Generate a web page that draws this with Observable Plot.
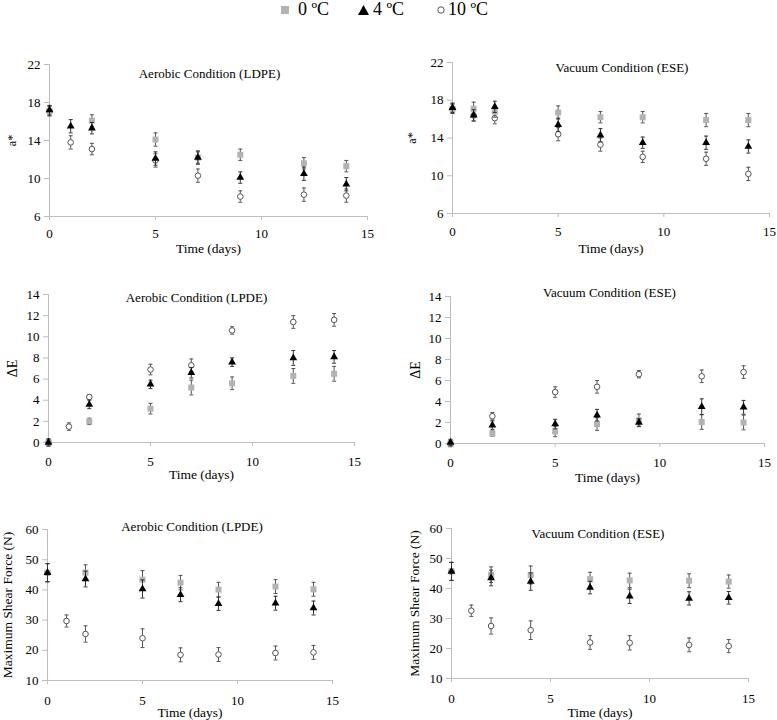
<!DOCTYPE html>
<html><head><meta charset="utf-8">
<script src="https://cdn.jsdelivr.net/npm/d3@7"></script>
<script src="https://cdn.jsdelivr.net/npm/@observablehq/plot@0.6"></script>
<style>
body{margin:0;background:#fff;}
#root{position:relative;width:777px;height:720px;background:#fff;font-family:"Liberation Serif","Times New Roman",serif;overflow:hidden;}
#root svg, #root svg text{font-family:"Liberation Serif","Times New Roman",serif !important;}
.panel{position:absolute;}
.legtxt{position:absolute;top:0;font-size:18px;line-height:18px;white-space:nowrap;color:#000;}
.legsym{position:absolute;}
</style></head><body><div id="root"></div>
<script>
// ---- legend / series ----
const seriesNames = ["0 ºC", "4 ºC", "10 ºC"];
const xTicks = [0, 5, 10, 15];

// ---- a* aerobic (LDPE) ----
const aAerDays0 = [0, 2, 5, 7, 9, 12, 14];
const aAerVal0  = [17.1, 16.1, 14.1, 12.2, 12.5, 11.6, 11.3];
const aAerErr0  = [0.5, 0.6, 0.7, 0.6, 0.6, 0.6, 0.6];
const aAerDays4 = [0, 1, 2, 5, 7, 9, 12, 14];
const aAerVal4  = [17.2, 15.5, 15.3, 12.1, 12.2, 10.1, 10.5, 9.4];
const aAerErr4  = [0.5, 0.7, 0.6, 0.7, 0.7, 0.6, 0.7, 0.7];
const aAerDays10 = [0, 1, 2, 5, 7, 9, 12, 14];
const aAerVal10  = [17.1, 13.8, 13.1, 11.9, 10.3, 8.1, 8.3, 8.2];
const aAerErr10  = [0.5, 0.7, 0.6, 0.7, 0.7, 0.6, 0.7, 0.7];

// ---- a* vacuum (ESE) ----
const aVacDays0 = [0, 1, 2, 5, 7, 9, 12, 14];
const aVacVal0  = [17.1, 17.1, 16.8, 16.7, 16.2, 16.2, 15.9, 15.9];
const aVacErr0  = [0.5, 0.7, 0.6, 0.7, 0.6, 0.6, 0.7, 0.7];
const aVacDays4 = [0, 1, 2, 5, 7, 9, 12, 14];
const aVacVal4  = [17.2, 16.4, 17.3, 15.4, 14.3, 13.5, 13.5, 13.1];
const aVacErr4  = [0.5, 0.6, 0.6, 0.7, 0.7, 0.6, 0.7, 0.7];
const aVacDays10 = [0, 1, 2, 5, 7, 9, 12, 14];
const aVacVal10  = [17.1, 16.4, 16.1, 14.4, 13.3, 12.0, 11.8, 10.2];
const aVacErr10  = [0.5, 0.6, 0.6, 0.7, 0.7, 0.6, 0.7, 0.7];

// ---- ΔE aerobic ----
const eAerDays0 = [0, 2, 5, 7, 9, 12, 14];
const eAerVal0  = [0, 2.0, 3.2, 5.2, 5.6, 6.3, 6.5];
const eAerErr0  = [0.3, 0.3, 0.5, 0.7, 0.6, 0.7, 0.7];
const eAerDays4 = [0, 2, 5, 7, 9, 12, 14];
const eAerVal4  = [0, 3.6, 5.5, 6.6, 7.6, 8.0, 8.1];
const eAerErr4  = [0.35, 0.4, 0.4, 0.5, 0.4, 0.7, 0.6];
const eAerDays10 = [0, 1, 2, 5, 7, 9, 12, 14];
const eAerVal10  = [0, 1.5, 4.3, 6.9, 7.3, 10.6, 11.4, 11.6];
const eAerErr10  = [0.3, 0.35, 0.2, 0.5, 0.6, 0.35, 0.6, 0.6];

// ---- ΔE vacuum ----
const eVacDays0 = [0, 2, 5, 7, 9, 12, 14];
const eVacVal0  = [0, 0.95, 1.15, 1.85, 2.2, 2.05, 2.0];
const eVacErr0  = [0.3, 0.25, 0.5, 0.6, 0.6, 0.7, 0.7];
const eVacDays4 = [0, 2, 5, 7, 9, 12, 14];
const eVacVal4  = [0.1, 1.75, 1.85, 2.7, 2.0, 3.5, 3.45];
const eVacErr4  = [0.3, 0.4, 0.45, 0.55, 0.35, 0.75, 0.65];
const eVacDays10 = [0, 2, 5, 7, 9, 12, 14];
const eVacVal10  = [0, 2.6, 4.9, 5.4, 6.6, 6.4, 6.8];
const eVacErr10  = [0.3, 0.35, 0.5, 0.6, 0.35, 0.6, 0.6];

// ---- Shear force aerobic ----
const sAerDays0 = [0, 2, 5, 7, 9, 12, 14];
const sAerVal0  = [45.7, 45.7, 43.4, 42.4, 40.1, 41.1, 40.2];
const sAerErr0  = [3.0, 2.6, 3.0, 2.4, 2.4, 2.3, 2.3];
const sAerDays4 = [0, 2, 5, 7, 9, 12, 14];
const sAerVal4  = [45.7, 43.6, 40.3, 38.4, 35.4, 35.6, 34.0];
const sAerErr4  = [3.0, 2.6, 3.0, 2.3, 2.2, 2.3, 2.3];
const sAerDays10 = [0, 1, 2, 5, 7, 9, 12, 14];
const sAerVal10  = [45.7, 29.7, 25.4, 24.0, 18.5, 18.6, 19.1, 19.3];
const sAerErr10  = [3.0, 2.0, 2.7, 3.1, 2.3, 2.3, 2.3, 2.3];

// ---- Shear force vacuum ----
const sVacDays0 = [0, 2, 4, 7, 9, 12, 14];
const sVacVal0  = [45.7, 44.6, 44.5, 43.1, 42.7, 42.6, 42.3];
const sVacErr0  = [3.0, 2.6, 3.0, 2.3, 2.4, 2.3, 2.2];
const sVacDays4 = [0, 2, 4, 7, 9, 12, 14];
const sVacVal4  = [45.7, 43.5, 42.3, 40.3, 37.4, 36.7, 36.9];
const sVacErr4  = [3.0, 2.6, 2.9, 2.1, 2.4, 2.2, 2.1];
const sVacDays10 = [0, 1, 2, 4, 7, 9, 12, 14];
const sVacVal10  = [45.7, 32.6, 27.5, 26.1, 22.0, 21.9, 21.2, 20.8];
const sVacErr10  = [3.0, 1.9, 2.7, 3.1, 2.3, 2.4, 2.3, 2.2];

const aTicks = [6, 10, 14, 18, 22];
const eTicks = [0, 2, 4, 6, 8, 10, 12, 14];
const sTicks = [10, 20, 30, 40, 50, 60];

// ---- styles ----
const FONT = "Liberation Serif, Times New Roman, serif";
const styles = [
  {symbol: "square", fill: "#b3b3b3", stroke: "none", r: 3.4, bar: "#555"},
  {symbol: "triangle", fill: "#000", stroke: "none", r: 2.9, bar: "#333"},
  {symbol: "circle", fill: "#fff", stroke: "#555", r: 2.8, bar: "#555"}
];
const cap = {draw(ctx) { ctx.moveTo(-2, 0); ctx.lineTo(2, 0); }};

function rows(days, vals, errs) {
  return days.map((d, i) => ({day: d, v: vals[i], lo: vals[i] - errs[i], hi: vals[i] + errs[i]}));
}

function panel(cfg) {
  const marks = [
    Plot.ruleX([0], {stroke: "#bdbdbd"}),
    Plot.ruleY([cfg.yDomain[0]], {stroke: "#bdbdbd"}),
    Plot.axisX({ticks: xTicks, tickSize: 4, tickPadding: cfg.xPad, stroke: "#bdbdbd", fill: "#000", fontSize: 13, fontFamily: FONT, label: null}),
    Plot.axisY({ticks: cfg.yTicks, tickSize: 5, tickPadding: 4, stroke: "#bdbdbd", fill: "#000", fontSize: 13, fontFamily: FONT, label: null}),
    Plot.text([cfg.title], {frameAnchor: "top", dx: cfg.tdx, dy: cfg.tdy, lineAnchor: "middle", textAnchor: "middle", fontSize: 13, fontFamily: FONT, fill: "#000"}),
    Plot.text(["Time (days)"], {frameAnchor: "bottom", dy: cfg.xldy, lineAnchor: "middle", textAnchor: "middle", fontSize: 13.5, fontFamily: FONT, fill: "#000"}),
    Plot.text([cfg.ylabel], {frameAnchor: "left", dx: cfg.yldx, rotate: -90, lineAnchor: "middle", textAnchor: "middle", fontSize: cfg.ylfs, fontFamily: FONT, fill: "#000"})
  ];
  // draw order: 10 ºC, 0 ºC, 4 ºC
  for (const k of [2, 0, 1]) {
    const data = cfg.series[k];
    const st = styles[k];
    marks.push(Plot.ruleX(data, {x: "day", y1: "lo", y2: "hi", stroke: st.bar, strokeWidth: 1}));
    marks.push(Plot.dot(data, {x: "day", y: "lo", symbol: cap, r: 2, fill: "none", stroke: st.bar, strokeWidth: 1}));
    marks.push(Plot.dot(data, {x: "day", y: "hi", symbol: cap, r: 2, fill: "none", stroke: st.bar, strokeWidth: 1}));
    marks.push(Plot.dot(data, {x: "day", y: "v", symbol: st.symbol, r: st.r, fill: st.fill, stroke: st.stroke, strokeWidth: 1}));
  }
  const svg = Plot.plot({
    width: cfg.width, height: cfg.height,
    marginLeft: cfg.mL, marginRight: cfg.mR, marginTop: cfg.mT, marginBottom: cfg.mB,
    x: {domain: [0, 15], label: null},
    y: {domain: cfg.yDomain, label: null},
    style: {fontFamily: FONT, fontSize: "13px", background: "transparent", overflow: "visible", color: "#000"},
    marks
  });
  const div = document.createElement("div");
  div.className = "panel";
  div.style.left = cfg.left + "px";
  div.style.top = cfg.top + "px";
  div.appendChild(svg);
  document.getElementById("root").appendChild(div);
}

// Panel 1: plot area x 49..367, y 64..216
panel({left: 0, top: 50, width: 385, height: 210, mL: 49, mR: 18, mT: 14, mB: 44,
  yDomain: [6, 22], yTicks: aTicks, title: "Aerobic Condition (LDPE)", tdx: 1, tdy: 9,
  ylabel: "a*", yldx: -37, ylfs: 12, xldy: 32, xPad: 8,
  series: [rows(aAerDays0, aAerVal0, aAerErr0), rows(aAerDays4, aAerVal4, aAerErr4), rows(aAerDays10, aAerVal10, aAerErr10)]});

// Panel 2: plot area x 452..769, y 62..213
panel({left: 390, top: 48, width: 387, height: 210, mL: 62, mR: 8, mT: 14, mB: 45,
  yDomain: [6, 22], yTicks: aTicks, title: "Vacuum Condition (ESE)", tdx: 11, tdy: 5,
  ylabel: "a*", yldx: -40, ylfs: 12, xldy: 35, xPad: 9,
  series: [rows(aVacDays0, aVacVal0, aVacErr0), rows(aVacDays4, aVacVal4, aVacErr4), rows(aVacDays10, aVacVal10, aVacErr10)]});

// Panel 3: plot area x 48..354, y 294..442
panel({left: 0, top: 280, width: 385, height: 205, mL: 48, mR: 31, mT: 14, mB: 43,
  yDomain: [0, 14], yTicks: eTicks, title: "Aerobic Condition (LPDE)", tdx: -5, tdy: 3,
  ylabel: "ΔE", yldx: -36, ylfs: 14, xldy: 32, xPad: 10,
  series: [rows(eAerDays0, eAerVal0, eAerErr0), rows(eAerDays4, eAerVal4, eAerErr4), rows(eAerDays10, eAerVal10, eAerErr10)]});

// Panel 4: plot area x 450..764, y 296..443
panel({left: 390, top: 280, width: 387, height: 205, mL: 60, mR: 13, mT: 16, mB: 42,
  yDomain: [0, 14], yTicks: eTicks, title: "Vacuum Condition (ESE)", tdx: 2, tdy: -4,
  ylabel: "ΔE", yldx: -35, ylfs: 14, xldy: 34, xPad: 10,
  series: [rows(eVacDays0, eVacVal0, eVacErr0), rows(eVacDays4, eVacVal4, eVacErr4), rows(eVacDays10, eVacVal10, eVacErr10)]});

// Panel 5: plot area x 47..332, y 529..680
panel({left: 0, top: 515, width: 385, height: 205, mL: 47, mR: 53, mT: 14, mB: 40,
  yDomain: [10, 60], yTicks: sTicks, title: "Aerobic Condition (LPDE)", tdx: 2, tdy: -3,
  ylabel: "Maximum Shear Force (N)", yldx: -40, ylfs: 13.5, xldy: 32, xPad: 11,
  series: [rows(sAerDays0, sAerVal0, sAerErr0), rows(sAerDays4, sAerVal4, sAerErr4), rows(sAerDays10, sAerVal10, sAerErr10)]});

// Panel 6: plot area x 451..748, y 528..678
panel({left: 390, top: 514, width: 387, height: 206, mL: 61, mR: 29, mT: 14, mB: 42,
  yDomain: [10, 60], yTicks: sTicks, title: "Vacuum Condition (ESE)", tdx: -2, tdy: 5,
  ylabel: "Maximum Shear Force (N)", yldx: -37, ylfs: 13.5, xldy: 34, xPad: 11,
  series: [rows(sVacDays0, sVacVal0, sVacErr0), rows(sVacDays4, sVacVal4, sVacErr4), rows(sVacDays10, sVacVal10, sVacErr10)]});

// ---- legend ----
(function legend() {
  const root = document.getElementById("root");
  const symX = [281, 358, 437];
  const txtX = [298, 373, 448];
  const svgs = [
    '<svg width="8" height="8"><rect x="0" y="0" width="8" height="8" fill="#b3b3b3"/></svg>',
    '<svg width="11" height="10"><path d="M5.5,0L11,10L0,10Z" fill="#000"/></svg>',
    '<svg width="8" height="8"><circle cx="4" cy="4" r="3.2" fill="#fff" stroke="#555" stroke-width="1"/></svg>'
  ];
  const symTop = [5.5, 4.5, 5.5];
  seriesNames.forEach((name, i) => {
    const s = document.createElement("div");
    s.className = "legsym";
    s.style.left = symX[i] + "px";
    s.style.top = symTop[i] + "px";
    s.style.lineHeight = "0";
    s.innerHTML = svgs[i];
    root.appendChild(s);
    const t = document.createElement("div");
    t.className = "legtxt";
    t.style.left = txtX[i] + "px";
    t.textContent = name;
    root.appendChild(t);
  });
})();
</script>
</body></html>
